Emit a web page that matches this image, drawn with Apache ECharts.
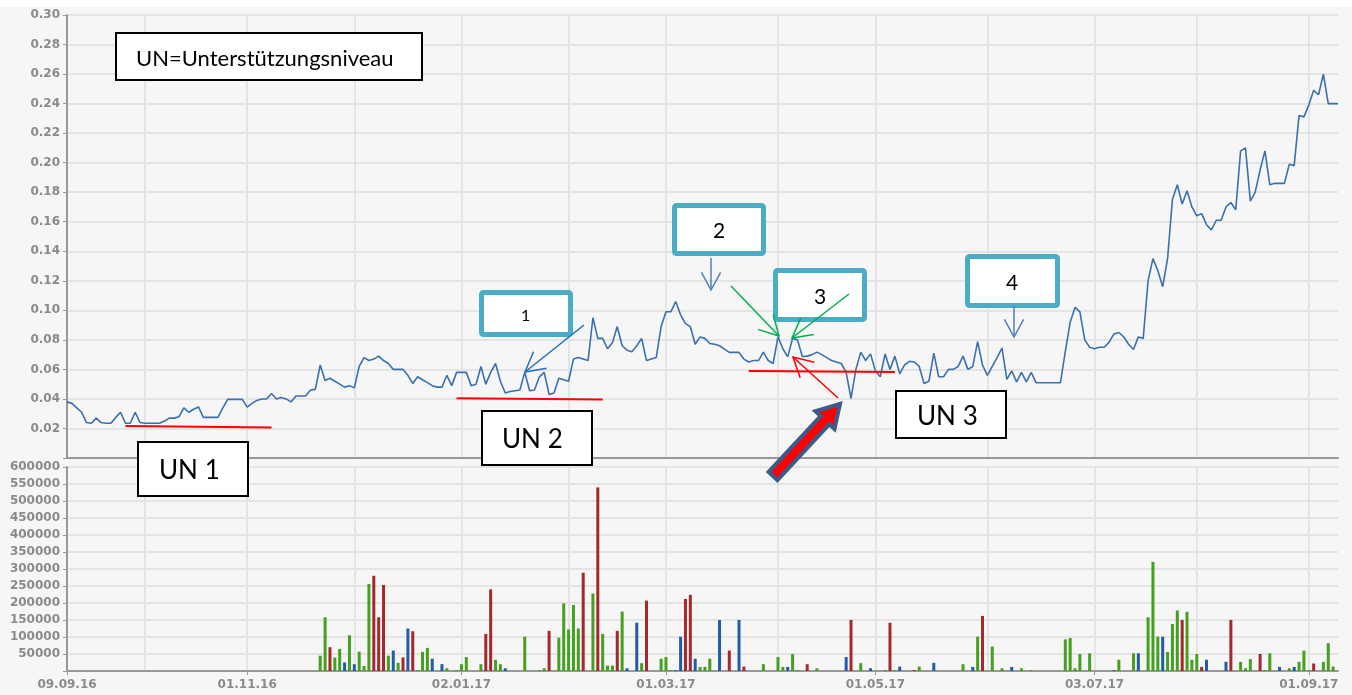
<!DOCTYPE html>
<html>
<head>
<meta charset="utf-8">
<script src="https://cdn.jsdelivr.net/npm/echarts@6/dist/echarts.min.js"></script>
<style>
  html, body { margin: 0; padding: 0; background: #f6f6f6; }
  #chart { width: 1352px; height: 695px; }
</style>
</head>
<body>
<div id="chart"></div>
<script>
// Kurs (Schlusskurse je Handelstag, ab 09.09.16)
const price = [
  0.038, 0.037, 0.034, 0.031, 0.024, 0.0235, 0.027, 0.024, 0.0235, 0.0235,
  0.0275, 0.031, 0.0235, 0.0235, 0.031, 0.024, 0.0235, 0.0235, 0.0235, 0.0235,
  0.025, 0.027, 0.027, 0.028, 0.034, 0.031, 0.033, 0.0346, 0.0275, 0.0275,
  0.0275, 0.0275, 0.034, 0.0397, 0.0397, 0.0397, 0.0397, 0.0345, 0.037, 0.039,
  0.040, 0.040, 0.0437, 0.040, 0.041, 0.040, 0.038, 0.042, 0.042, 0.042,
  0.046, 0.0465, 0.063, 0.0525, 0.054, 0.052, 0.050, 0.048, 0.049, 0.0475,
  0.062, 0.068, 0.066, 0.067, 0.069, 0.066, 0.064, 0.060, 0.060, 0.060,
  0.056, 0.0505, 0.055, 0.053, 0.051, 0.049, 0.048, 0.048, 0.056, 0.049,
  0.058, 0.058, 0.058, 0.049, 0.050, 0.062, 0.050, 0.058, 0.064, 0.052,
  0.044, 0.045, 0.0455, 0.046, 0.058, 0.0455, 0.046, 0.055, 0.058, 0.043,
  0.044, 0.054, 0.053, 0.052, 0.067, 0.068, 0.067, 0.066, 0.095, 0.081,
  0.081, 0.074, 0.078, 0.089, 0.076, 0.073, 0.072, 0.076, 0.081, 0.066,
  0.067, 0.068, 0.089, 0.099, 0.099, 0.106, 0.097, 0.091, 0.089, 0.077,
  0.082, 0.081, 0.0775, 0.077, 0.076, 0.0737, 0.0715, 0.0715, 0.0715, 0.067,
  0.065, 0.066, 0.066, 0.0717, 0.066, 0.064, 0.082, 0.074, 0.0685, 0.081,
  0.080, 0.0687, 0.069, 0.070, 0.0717, 0.070, 0.068, 0.066, 0.065, 0.064,
  0.058, 0.0403, 0.060, 0.0717, 0.066, 0.0705, 0.059, 0.055, 0.0705, 0.060,
  0.069, 0.057, 0.063, 0.0655, 0.065, 0.062, 0.0505, 0.052, 0.071, 0.055,
  0.055, 0.060, 0.060, 0.062, 0.069, 0.060, 0.062, 0.0788, 0.063, 0.056,
  0.062, 0.068, 0.0745, 0.0533, 0.059, 0.0515, 0.058, 0.0515, 0.058, 0.051,
  0.051, 0.051, 0.051, 0.051, 0.051, 0.072, 0.092, 0.102, 0.099, 0.080,
  0.075, 0.074, 0.075, 0.075, 0.0785, 0.084, 0.085, 0.082, 0.077, 0.0735,
  0.082, 0.081, 0.120, 0.135, 0.127, 0.116, 0.135, 0.175, 0.185, 0.172,
  0.181, 0.170, 0.164, 0.1655, 0.158, 0.1545, 0.161, 0.161, 0.170, 0.173,
  0.168, 0.208, 0.210, 0.174, 0.180, 0.195, 0.208, 0.185, 0.186, 0.186,
  0.186, 0.199, 0.198, 0.232, 0.231, 0.239, 0.249, 0.246, 0.260, 0.240,
  0.240, 0.240
];

// Umsatz (Stück) je Handelstag
const volume = [
  0, 0, 0, 0, 0, 0, 0, 0, 0, 0,
  0, 0, 0, 0, 0, 0, 0, 0, 0, 0,
  0, 0, 0, 0, 0, 0, 0, 0, 0, 0,
  0, 0, 0, 0, 0, 0, 0, 0, 0, 0,
  0, 0, 0, 0, 0, 0, 0, 0, 0, 0,
  0, 0, 45000, 158000, 70000, 40000, 65000, 25000, 105000, 20000,
  57000, 15000, 256000, 280000, 158000, 253000, 45000, 60000, 24000, 40000,
  125000, 117000, 3000, 56000, 68000, 36000, 0, 20000, 8000, 0,
  3000, 20000, 41000, 0, 0, 20000, 109000, 240000, 33000, 20000,
  8000, 0, 0, 0, 101000, 0, 0, 3000, 8000, 118000,
  0, 98000, 199000, 122000, 194000, 125000, 289000, 0, 228000, 540000,
  109000, 16000, 16000, 118000, 175000, 8000, 0, 142000, 23000, 207000,
  0, 0, 36000, 41000, 3000, 3000, 101000, 212000, 224000, 36000,
  12000, 12000, 36000, 0, 150000, 0, 60000, 0, 150000, 13000,
  0, 0, 0, 20000, 0, 0, 41000, 12000, 12000, 50000,
  3000, 0, 20000, 0, 8000, 0, 0, 0, 0, 0,
  41000, 150000, 0, 23000, 0, 8000, 0, 0, 3000, 142000,
  3000, 13000, 0, 0, 3000, 13000, 0, 0, 24000, 0,
  0, 0, 0, 0, 20000, 0, 12000, 101000, 162000, 0,
  72000, 0, 8000, 0, 12000, 0, 8000, 0, 3000, 0,
  0, 0, 0, 0, 0, 93000, 97000, 8000, 50000, 0,
  52000, 0, 0, 0, 0, 3000, 33000, 0, 0, 52000,
  52000, 0, 158000, 321000, 101000, 101000, 56000, 138000, 178000, 150000,
  174000, 33000, 50000, 12000, 33000, 0, 0, 0, 27000, 150000,
  0, 27000, 8000, 35000, 0, 50000, 3000, 52000, 0, 12000,
  0, 8000, 12000, 27000, 60000, 3000, 22000, 0, 27000, 82000,
  13000, 0
];

// Farbe der Umsatzbalken: g = steigend, r = fallend, b = unverändert
const volumeType = [
  '----------', '----------', '----------', '----------', '----------',
  '--ggrggbgb', 'gggrrrgbgr', 'brgggb-bg-', 'ggg--grrgg', 'b---g--ggr',
  '-gggggr-gr', 'gggrgb-bgr', '--gggbbrrb', 'ggg-b-r-br', '---g--ggbg',
  'g-r-g-----', 'br-g-b--gr', 'gb--rg--b-', '----g-bgr-', 'g-g-b-g-g-',
  '-----gggg-', 'g----bg--g', 'b-gggbgggr', 'gggrb---br', '-ggg-rgg-b',
  '-gbgggr-gg', 'g-'
].join('');

const tickLabels = ['09.09.16', '01.11.16', '02.01.17', '01.03.17', '01.05.17', '03.07.17', '01.09.17'];

// Unterstützungsniveaus [Startdatum, Kurs, Enddatum, Kurs]
const supportLines = [
  ['27.09.16', 0.0216, '08.11.16', 0.0207],
  ['30.12.16', 0.0405, '10.02.17', 0.0397],
  ['24.03.17', 0.0589, '05.05.17', 0.0582]
];

// Handelstage (Mo-Fr)
const dates = [];
const d = new Date(Date.UTC(2016, 8, 9));
while (dates.length < price.length) {
  const wd = d.getUTCDay();
  if (wd !== 0 && wd !== 6) {
    const dd = String(d.getUTCDate()).padStart(2, '0');
    const mm = String(d.getUTCMonth() + 1).padStart(2, '0');
    const yy = String(d.getUTCFullYear()).slice(2);
    dates.push(dd + '.' + mm + '.' + yy);
  }
  d.setUTCDate(d.getUTCDate() + 1);
}
const monthStart = dates.map((v, i) => i > 0 && v.slice(3, 5) !== dates[i - 1].slice(3, 5));

const barColors = { g: '#44a01f', r: '#a5282c', b: '#1f5da8' };
const volData = volume.map((v, i) => ({
  value: v,
  itemStyle: { color: barColors[volumeType[i]] || '#44a01f' }
}));

const gridColor = '#e4e4e4';
const labelStyle = { color: '#8a8a8a', fontFamily: 'DejaVu Sans', fontSize: 12, fontWeight: 'bold' };

// --- Beschriftungen / Pfeile ---
const Z = 100;
function openArrow(x1, y1, x2, y2, color, head, width) {
  const a = Math.atan2(y2 - y1, x2 - x1);
  const s = 0.5;
  return [
    { type: 'polyline', z: Z, shape: { points: [[x1, y1], [x2, y2]] }, style: { stroke: color, lineWidth: width } },
    {
      type: 'polyline', z: Z,
      shape: { points: [
        [x2 - head * Math.cos(a - s), y2 - head * Math.sin(a - s)],
        [x2, y2],
        [x2 - head * Math.cos(a + s), y2 - head * Math.sin(a + s)]
      ] },
      style: { stroke: color, lineWidth: width, fill: null }
    }
  ];
}

function bigArrow(x1, y1, x2, y2) {
  const len = Math.hypot(x2 - x1, y2 - y1);
  const ux = (x2 - x1) / len, uy = (y2 - y1) / len;
  const nx = -uy, ny = ux;
  const w = 6, hw = 13, hl = 22;
  const bx = x2 - ux * hl, by = y2 - uy * hl;
  return [{
    type: 'polygon', z: Z,
    shape: { points: [
      [x1 + nx * w, y1 + ny * w], [bx + nx * w, by + ny * w], [bx + nx * hw, by + ny * hw],
      [x2, y2],
      [bx - nx * hw, by - ny * hw], [bx - nx * w, by - ny * w], [x1 - nx * w, y1 - ny * w]
    ] },
    style: { fill: '#ff0000', stroke: '#3b5b8b', lineWidth: 4, lineJoin: 'miter' }
  }];
}

function textBox(x, y, w, h, text, tx, fontSize, stroke, lw) {
  return [
    { type: 'rect', z: Z, shape: { x: x, y: y, width: w, height: h, r: lw > 3 ? 2 : 0 },
      style: { fill: '#ffffff', stroke: stroke, lineWidth: lw } },
    { type: 'text', z: Z + 1, x: tx, y: y + h / 2 + 2,
      style: { text: text, fill: '#000000', font: fontSize + 'px Lato', verticalAlign: 'middle', align: 'left' } }
  ];
}

const cyan = '#4bacc6';
const graphics = [].concat(
  [{ type: 'rect', shape: { x: 0, y: 0, width: 1352, height: 7 }, style: { fill: '#ffffff' }, z: Z }],
  textBox(116, 33, 306, 47, 'UN=Unterstützungsniveau', 136, 22, '#000', 2),
  textBox(138, 442, 110, 54, 'UN 1', 159, 26, '#000', 2),
  textBox(482, 411, 110, 54, 'UN 2', 502, 26, '#000', 2),
  textBox(896, 391, 110, 47, 'UN 3', 917, 26, '#000', 2),
  textBox(481.5, 292.5, 89, 42, '1', 521, 16, cyan, 5),
  textBox(674.5, 205.5, 89, 48, '2', 713, 21, cyan, 5),
  textBox(775.5, 270.5, 89, 49, '3', 814, 21, cyan, 5),
  textBox(967.5, 256.5, 90, 49, '4', 1006, 21, cyan, 5),
  openArrow(584, 325, 525, 372, '#1f6fc0', 22, 1.5),
  openArrow(711, 258, 711, 290, '#4f81bd', 20, 1.5),
  openArrow(1014, 306, 1014, 337, '#4f81bd', 20, 1.5),
  openArrow(731, 286, 779, 336, '#00b050', 22, 1.5),
  openArrow(849, 294, 792, 338, '#00b050', 22, 1.5),
  openArrow(838, 398, 793, 357, '#ff0000', 22, 1.5),
  bigArrow(773, 476, 840, 404)
);

const chart = echarts.init(document.getElementById('chart'));

const option = {
  backgroundColor: '#f6f6f6',
  animation: false,
  grid: [
    { left: 67, right: 14, top: 15, height: 443 },
    { left: 67, right: 14, top: 467, height: 204 }
  ],
  xAxis: [
    {
      type: 'category', gridIndex: 0, data: dates, boundaryGap: false,
      axisLine: { lineStyle: { color: '#999999', width: 2 } },
      axisTick: { show: false },
      axisLabel: { show: false },
      splitLine: { show: true, interval: (i) => monthStart[i], lineStyle: { color: gridColor, width: 2 } }
    },
    {
      type: 'category', gridIndex: 1, data: dates, boundaryGap: false,
      axisLine: { lineStyle: { color: '#999999', width: 2 } },
      axisTick: { show: true, interval: (i, v) => tickLabels.includes(v), length: 4, lineStyle: { color: '#999999' } },
      axisLabel: Object.assign({ interval: (i, v) => tickLabels.includes(v), margin: 8 }, labelStyle),
      splitLine: { show: true, interval: (i) => monthStart[i], lineStyle: { color: gridColor, width: 2 } }
    }
  ],
  yAxis: [
    {
      type: 'value', gridIndex: 0, min: 0, max: 0.3, interval: 0.02,
      axisLine: { show: true, lineStyle: { color: '#999999', width: 2 } },
      axisTick: { show: true, length: 4, lineStyle: { color: '#999999' } },
      axisLabel: Object.assign({ margin: 7, formatter: (v) => (v === 0 ? '' : v.toFixed(2)) }, labelStyle),
      splitLine: { lineStyle: { color: gridColor, width: 2 } }
    },
    {
      type: 'value', gridIndex: 1, min: 0, max: 600000, interval: 50000,
      axisLine: { show: true, lineStyle: { color: '#999999', width: 2 } },
      axisTick: { show: true, length: 4, lineStyle: { color: '#999999' } },
      axisLabel: Object.assign({ margin: 7, formatter: (v) => (v === 0 ? '' : String(v)) }, labelStyle),
      splitLine: { lineStyle: { color: gridColor, width: 2 } }
    }
  ],
  series: [
    {
      name: 'Kurs', type: 'line', xAxisIndex: 0, yAxisIndex: 0,
      data: price, showSymbol: false, smooth: false,
      lineStyle: { color: '#3b70ae', width: 1.6 },
      markLine: {
        silent: true, symbol: 'none',
        label: { show: false },
        lineStyle: { color: '#ff0000', width: 2, type: 'solid' },
        data: supportLines.map((s) => [{ coord: [s[0], s[1]] }, { coord: [s[2], s[3]] }])
      }
    },
    {
      name: 'Umsatz', type: 'bar', xAxisIndex: 1, yAxisIndex: 1,
      data: volData, barWidth: 3
    }
  ],
  graphic: graphics
};

chart.setOption(option);
</script>
</body>
</html>
